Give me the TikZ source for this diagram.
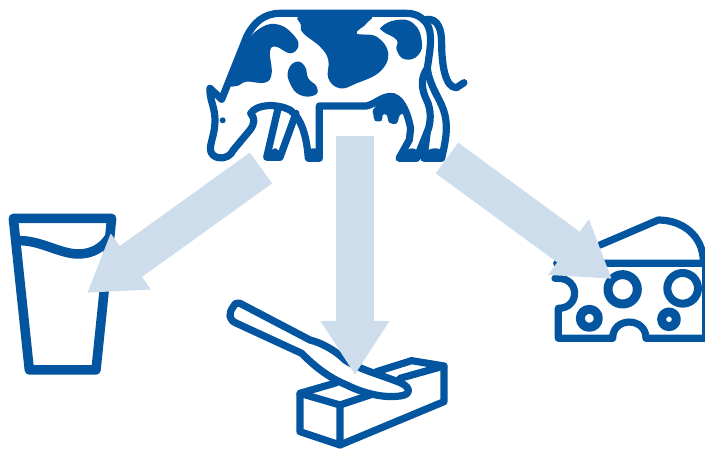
\documentclass[tikz,border=0pt]{standalone}
\usepackage{tikz}
\usetikzlibrary{arrows.meta}
\definecolor{iconblue}{RGB}{4,85,159}
\definecolor{arrowblue}{RGB}{205,221,235}
\begin{document}
\begin{tikzpicture}[
      x=1pt, y=-1pt,
      icon/.style={draw=iconblue, line width=#1, line join=round, line cap=round},
      icon/.default=7.2pt,
      spot/.style={fill=iconblue},
      bigarr/.style={draw=arrowblue, line width=38pt,
                     -{Triangle[width=65pt, length=54pt, fill=arrowblue]}}
    ]
    \useasboundingbox (0,0) rectangle (705,449);

    \begin{scope}[shift={(200,0)}, x=0.3333pt, y=-0.3333pt]
      \draw[icon] (65,298) -- (30,265) .. controls (28,300) and (45,320) .. (45,360)
        .. controls (45,400) and (33,420) .. (31,445)
        .. controls (30,480) and (85,485) .. (100,450)
        -- (150,390) .. controls (165,370) and (165,355) .. (152,340)
        .. controls (170,312) and (230,310) .. (270,330)
        .. controls (305,355) and (320,410) .. (325,475) -- (358,475) -- (358,318) -- (500,318)
        .. controls (530,310) and (550,285) .. (580,290)
        .. controls (610,300) and (625,350) .. (632,385) -- (628,420) -- (597,475) -- (650,475)
        -- (682,395) -- (672,475) -- (725,475)
        .. controls (735,430) and (745,390) .. (735,345)
        .. controls (725,300) and (690,265) .. (682,205)
        .. controls (690,150) and (700,100) .. (680,70)
        .. controls (660,45) and (640,40) .. (620,40) -- (240,40)
        .. controls (190,40) and (160,70) .. (140,110) -- (65,298);
      \draw[icon] (682,205) .. controls (660,235) and (665,270) .. (680,300)
        .. controls (695,330) and (693,370) .. (682,395);
      \draw[icon] (680,58) .. controls (715,55) and (725,90) .. (725,130)
        .. controls (725,190) and (735,265) .. (770,263) -- (792,248);
      \draw[icon] (235,322) -- (200,472) -- (240,472) -- (288,340);
      \fill[spot, rounded corners=8pt] (190,482) -- (207,445) -- (245,445) -- (238,482) -- cycle;
      \fill[spot, rounded corners=8pt] (315,445) -- (366,445) -- (366,485) -- (315,485) -- cycle;
      \fill[spot, rounded corners=8pt] (588,484) -- (615,445) -- (660,445) -- (645,484) -- cycle;
      \fill[spot, rounded corners=8pt] (666,484) -- (678,445) -- (733,445) -- (727,484) -- cycle;
      \fill[spot] plot[smooth cycle, tension=0.6] coordinates {(520,328) (550,297) (580,285) (610,300)
        (616,335) (600,345) (590,370) (568,368) (560,345) (548,345) (545,362) (525,362) (520,342)};
      \fill[spot] (68,361) circle [radius=9];
      \fill[spot] plot[smooth cycle, tension=0.7] coordinates {(185,82) (240,75) (285,110) (295,140) (270,160)
        (228,140) (210,155) (215,220) (195,248) (140,245) (110,258) (90,245) (130,140)};
      \fill[spot] plot[smooth cycle, tension=0.7] coordinates {(310,45) (500,45) (500,70) (470,100) (530,110)
        (565,160) (540,215) (470,250) (420,265) (385,235) (385,180) (360,140) (310,100) (303,75)};
      \fill[spot] plot[smooth cycle, tension=0.8] coordinates {(545,80) (590,60) (640,70) (665,120) (655,165)
        (615,178) (590,150) (590,120) (550,95)};
      \fill[spot] plot[smooth cycle, tension=0.8] coordinates {(265,210) (290,185) (315,200) (325,235) (350,260)
        (345,285) (300,285) (270,250)};
    \end{scope}

    \begin{scope}[shift={(0,200)}, x=0.3333pt, y=-0.3333pt]
      \draw[icon=9.5pt] (40,55) -- (335,55) -- (288,510) -- (88,510) -- cycle;
      \draw[icon=9.5pt] (55,122) .. controls (120,120) and (180,162) .. (235,162)
        .. controls (280,162) and (310,140) .. (328,112);
    \end{scope}

    \begin{scope}[shift={(220,290)}, x=0.3333pt, y=-0.3333pt]
      \draw[icon] (240,310) -- (360,345) -- (360,465) -- (240,425) -- cycle;
      \draw[icon] (360,465) -- (672,335) -- (672,228) -- (575,212) -- (470,245);
      \draw[icon] (360,345) -- (450,315);
      \draw[icon] (240,310) -- (350,278);
      \draw[icon] (540,265) -- (672,228);
      \draw[icon, fill=white] (60,40) -- (270,150)
        .. controls (310,160) and (350,185) .. (375,210)
        .. controls (420,240) and (500,260) .. (545,280)
        .. controls (575,295) and (570,315) .. (540,318)
        .. controls (490,325) and (430,310) .. (380,285)
        .. controls (320,260) and (280,225) .. (245,190)
        -- (50,100) .. controls (25,90) and (25,70) .. (40,50)
        .. controls (45,40) and (52,36) .. (60,40) -- cycle;
    \end{scope}

    \begin{scope}[shift={(540,200)}, x=0.3333pt, y=-0.3333pt]
      \draw[icon=7.2pt] (50,190) -- (497,190) -- (497,415) -- (318,415)
        .. controls (318,350) and (218,350) .. (218,415)
        -- (55,415) -- (55,325)
        .. controls (120,325) and (120,235) .. (55,235) -- (45,235);
      \draw[icon=7.2pt] (180,135) -- (355,60) .. controls (430,60) and (490,110) .. (490,185);
      \draw[icon=9pt] (248,268) circle [radius=44];
      \draw[icon=8pt] (428,265) circle [radius=46];
      \draw[icon=9pt] (148,355) circle [radius=27];
      \draw[icon=9pt] (387,358) circle [radius=22];
    \end{scope}

    \coordinate (cowleft) at (261,168);
    \coordinate (cowmid) at (355,136);
    \coordinate (cowright) at (447,158);
    \coordinate (glass) at (87,293);
    \coordinate (butter) at (355,375);
    \coordinate (cheese) at (612,279);

    \draw[bigarr] (cowleft) -- (glass);
    \draw[bigarr] (cowmid) -- (butter);
    \draw[bigarr] (cowright) -- (cheese);
\end{tikzpicture}
\end{document}
